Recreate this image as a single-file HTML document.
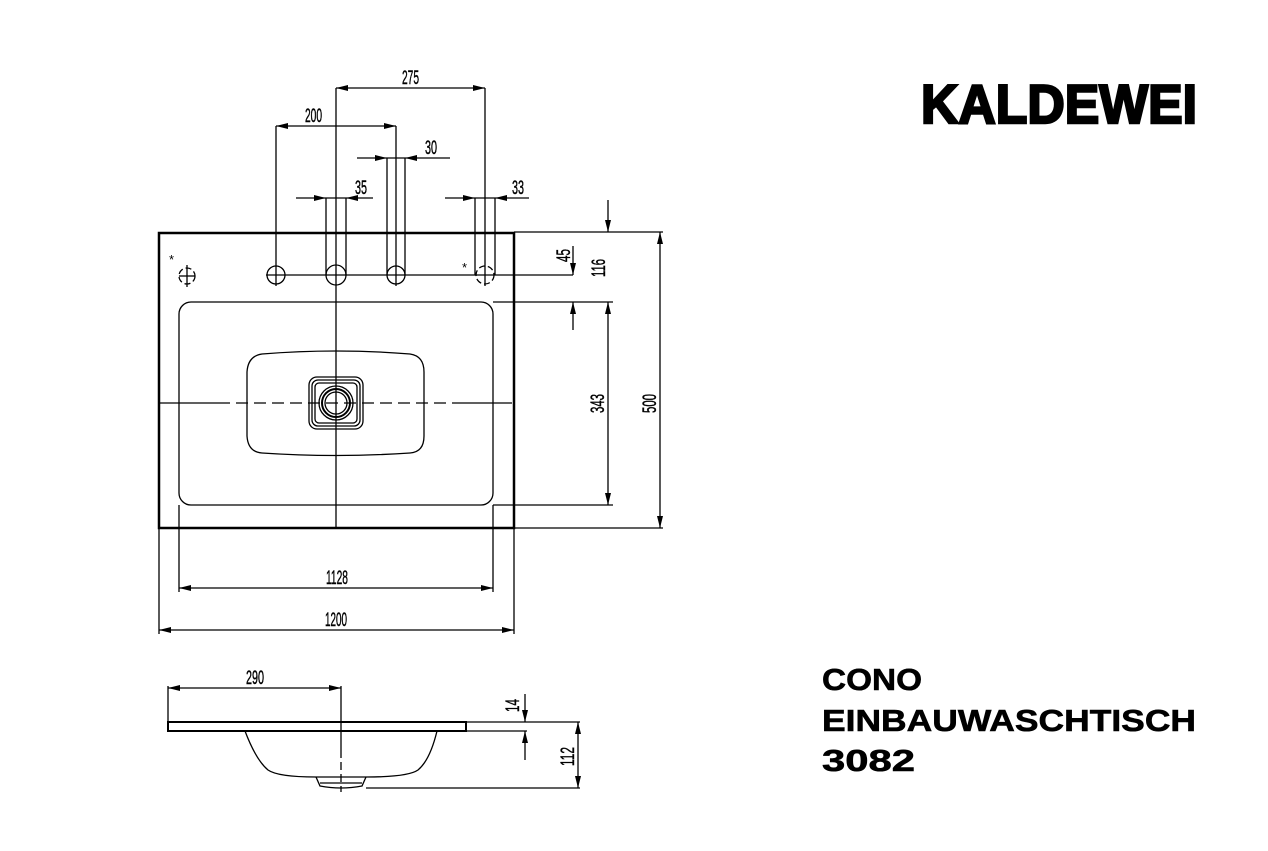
<!DOCTYPE html>
<html><head><meta charset="utf-8"><style>
html,body{margin:0;padding:0;background:#fff;width:1268px;height:851px;overflow:hidden}
svg{display:block}
.d{font-family:"Liberation Sans Narrow","Liberation Sans",sans-serif;font-size:19px;fill:#000;stroke:#000;stroke-width:0.4}
</style></head><body>
<svg width="1268" height="851" viewBox="0 0 1268 851" xmlns="http://www.w3.org/2000/svg">
<defs>
<marker id="a" viewBox="0 0 12 6" refX="12" refY="3" markerWidth="12" markerHeight="6" markerUnits="userSpaceOnUse" orient="auto-start-reverse"><path d="M0,0L12,3L0,6z" fill="#000"/></marker>
</defs>
<g stroke="#000" fill="none" stroke-width="1.3">
<rect x="159" y="233" width="355" height="295" stroke-width="2.5"/>
<rect x="179" y="302" width="314" height="203" rx="12"/>
<path d="M262,354 Q336,348 410,354 Q424,356 424,372 L424,436 Q424,452 410,453 Q336,458 262,453 Q248,452 247,436 L247,372 Q248,356 262,354Z"/>
<rect x="309" y="377" width="54" height="52" rx="8"/>
<rect x="312" y="380" width="48" height="46" rx="6"/>
<rect x="315" y="383" width="42" height="40" rx="4"/>
<circle cx="336" cy="403" r="17"/>
<circle cx="336" cy="403" r="14" stroke-width="2"/>
<circle cx="336" cy="403" r="11"/>
<line x1="336" y1="88" x2="336" y2="528"/>
<line x1="160" y1="403" x2="218" y2="403"/>
<line x1="454" y1="403" x2="512" y2="403"/>
<line x1="218" y1="403" x2="454" y2="403" stroke-dasharray="12,6"/>
<circle cx="276" cy="275" r="9"/>
<circle cx="336" cy="275" r="10"/>
<circle cx="396" cy="275" r="9"/>
<circle cx="485" cy="275" r="9" stroke-dasharray="6,3"/>
<circle cx="187" cy="276" r="8" stroke-dasharray="6,3"/>
<line x1="179" y1="276" x2="195" y2="276"/><line x1="187" y1="265" x2="187" y2="287"/>
<line x1="266" y1="275" x2="573" y2="275"/>
<line x1="276" y1="126" x2="276" y2="286"/>
<line x1="396" y1="126" x2="396" y2="286"/>
<line x1="485" y1="88" x2="485" y2="286"/>
<line x1="326" y1="198" x2="326" y2="275"/><line x1="346" y1="198" x2="346" y2="275"/>
<line x1="387" y1="158" x2="387" y2="275"/><line x1="405" y1="158" x2="405" y2="275"/>
<line x1="475" y1="198" x2="475" y2="275"/><line x1="495" y1="198" x2="495" y2="275"/>
<line x1="336" y1="88" x2="485" y2="88" marker-start="url(#a)" marker-end="url(#a)"/>
<line x1="276" y1="126" x2="396" y2="126" marker-start="url(#a)" marker-end="url(#a)"/>
<line x1="357" y1="158" x2="387" y2="158" marker-end="url(#a)"/><line x1="450" y1="158" x2="405" y2="158" marker-end="url(#a)"/><line x1="387" y1="158" x2="405" y2="158"/>
<line x1="296" y1="198" x2="326" y2="198" marker-end="url(#a)"/><line x1="373" y1="198" x2="346" y2="198" marker-end="url(#a)"/><line x1="326" y1="198" x2="346" y2="198"/>
<line x1="445" y1="198" x2="475" y2="198" marker-end="url(#a)"/><line x1="529" y1="198" x2="495" y2="198" marker-end="url(#a)"/><line x1="475" y1="198" x2="495" y2="198"/>
<line x1="514" y1="232" x2="663" y2="232"/>
<line x1="493" y1="302" x2="613" y2="302"/>
<line x1="493" y1="505" x2="613" y2="505"/>
<line x1="514" y1="528" x2="663" y2="528"/>
<line x1="573" y1="246" x2="573" y2="275" marker-end="url(#a)"/>
<line x1="573" y1="330" x2="573" y2="302" marker-end="url(#a)"/>
<line x1="608" y1="200" x2="608" y2="232" marker-end="url(#a)"/>
<line x1="608" y1="302" x2="608" y2="505" marker-start="url(#a)" marker-end="url(#a)"/>
<line x1="660" y1="232" x2="660" y2="528" marker-start="url(#a)" marker-end="url(#a)"/>
<line x1="179" y1="505" x2="179" y2="592"/><line x1="493" y1="505" x2="493" y2="592"/>
<line x1="159" y1="528" x2="159" y2="634"/><line x1="514" y1="528" x2="514" y2="634"/>
<line x1="179" y1="588" x2="493" y2="588" marker-start="url(#a)" marker-end="url(#a)"/>
<line x1="159" y1="630" x2="514" y2="630" marker-start="url(#a)" marker-end="url(#a)"/>
<rect x="168" y="722" width="298" height="9" stroke-width="2"/>
<path d="M245,731 Q256,760 268,770 Q278,777 316,777 L366,777 Q408,777 418,770 Q430,760 437,731"/>
<path d="M316,777 L320,786 Q341,790 362,786 L366,777"/>
<line x1="320" y1="783" x2="362" y2="783"/>
<line x1="168" y1="686" x2="168" y2="722"/>
<line x1="341" y1="686" x2="341" y2="750"/>
<line x1="341" y1="750" x2="341" y2="792" stroke-dasharray="8,4"/>
<line x1="168" y1="688" x2="341" y2="688" marker-start="url(#a)" marker-end="url(#a)"/>
<line x1="466" y1="722" x2="580" y2="722"/>
<line x1="466" y1="731" x2="527" y2="731"/>
<line x1="366" y1="788" x2="580" y2="788"/>
<line x1="525" y1="694" x2="525" y2="722" marker-end="url(#a)"/>
<line x1="525" y1="760" x2="525" y2="731" marker-end="url(#a)"/>
<line x1="578" y1="722" x2="578" y2="788" marker-start="url(#a)" marker-end="url(#a)"/>
</g>
<g class="d">
<text x="402" y="84" textLength="17" lengthAdjust="spacingAndGlyphs">275</text>
<text x="305" y="122" textLength="17" lengthAdjust="spacingAndGlyphs">200</text>
<text x="425" y="154" textLength="12" lengthAdjust="spacingAndGlyphs">30</text>
<text x="355" y="194" textLength="12" lengthAdjust="spacingAndGlyphs">35</text>
<text x="512" y="194" textLength="12" lengthAdjust="spacingAndGlyphs">33</text>
<text x="326" y="584" textLength="22" lengthAdjust="spacingAndGlyphs">1128</text>
<text x="325" y="626" textLength="22" lengthAdjust="spacingAndGlyphs">1200</text>
<text x="246" y="684" textLength="18" lengthAdjust="spacingAndGlyphs">290</text>
<text transform="translate(570,262) rotate(-90)" textLength="13" lengthAdjust="spacingAndGlyphs">45</text>
<text transform="translate(605,277) rotate(-90)" textLength="18" lengthAdjust="spacingAndGlyphs">116</text>
<text transform="translate(604,413) rotate(-90)" textLength="19" lengthAdjust="spacingAndGlyphs">343</text>
<text transform="translate(656,413) rotate(-90)" textLength="19" lengthAdjust="spacingAndGlyphs">500</text>
<text transform="translate(519,712) rotate(-90)" textLength="13" lengthAdjust="spacingAndGlyphs">14</text>
<text transform="translate(574,766) rotate(-90)" textLength="19" lengthAdjust="spacingAndGlyphs">112</text>
<text x="169" y="264" font-size="13" stroke-width="0">*</text>
<text x="462" y="272" font-size="13" stroke-width="0">*</text>
</g>
<text x="921" y="123" font-family="Liberation Sans,sans-serif" font-weight="bold" font-size="55" textLength="276" lengthAdjust="spacingAndGlyphs" stroke="#000" stroke-width="2.5">KALDEWEI</text>
<g font-family="Liberation Sans,sans-serif" font-weight="bold" font-size="31" stroke="#000" stroke-width="0.6">
<text x="822" y="690" textLength="100" lengthAdjust="spacingAndGlyphs">CONO</text>
<text x="822" y="731" textLength="374" lengthAdjust="spacingAndGlyphs">EINBAUWASCHTISCH</text>
<text x="822" y="771" textLength="93" lengthAdjust="spacingAndGlyphs">3082</text>
</g>
</svg>
</body></html>
